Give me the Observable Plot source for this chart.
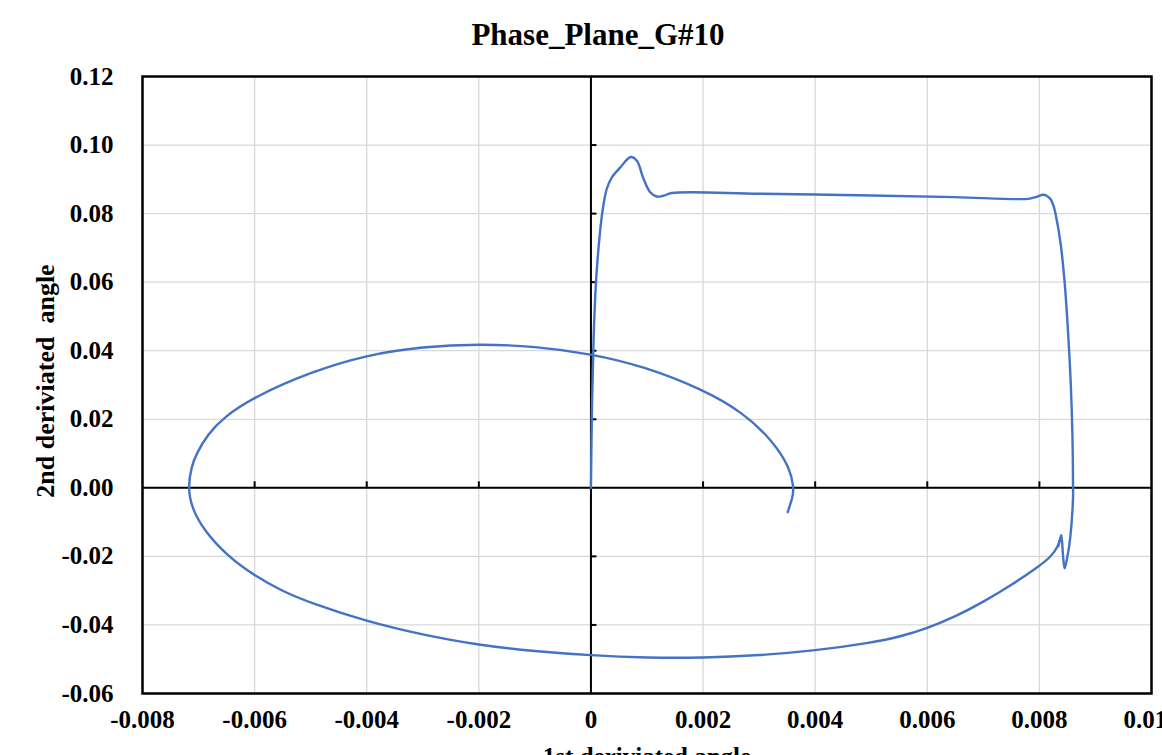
<!DOCTYPE html>
<html>
<head>
<meta charset="utf-8">
<script src="https://cdn.jsdelivr.net/npm/d3@7"></script>
<script src="https://cdn.jsdelivr.net/npm/@observablehq/plot@0.6"></script>
<style>
  html, body { margin: 0; padding: 0; background: #fff; overflow: hidden; }
  #chart { width: 1162px; height: 755px; }
</style>
</head>
<body>
<div id="chart"></div>
<script>
const title = "Phase_Plane_G#10";
const xLabel = "1st deriviated angle";
const yLabel = "2nd deriviated\u00a0 angle";

const xTicks = [-0.008, -0.006, -0.004, -0.002, 0, 0.002, 0.004, 0.006, 0.008, 0.010];
const yTicks = [-0.06, -0.04, -0.02, 0, 0.02, 0.04, 0.06, 0.08, 0.10, 0.12];

// trajectory, in drawing order (1st derivative, 2nd derivative)
const dAngle1 = [
  0, 0.00002, 0.00005, 0.00009, 0.00013, 0.0002, 0.00028, 0.00037, 0.00052, 0.00071,
  0.00082, 0.00093, 0.00105, 0.00117, 0.00129, 0.00144, 0.003, 0.005, 0.0065, 0.0078,
  0.00793, 0.00807, 0.00813, 0.0082, 0.00826, 0.00829, 0.00838, 0.00845, 0.00851, 0.00856,
  0.00859, 0.0086, 0.0086, 0.00855, 0.00849, 0.00845, 0.00842, 0.00839, 0.00834, 0.0082,
  0.008, 0.0075, 0.007, 0.0065, 0.006, 0.0055, 0.005, 0.004, 0.003, 0.002,
  0.001, 0, -0.001, -0.002, -0.003, -0.004, -0.005, -0.0055, -0.006, -0.0065,
  -0.0069, -0.00712, -0.00719, -0.00713, -0.00704, -0.00683, -0.00656, -0.006, -0.005, -0.004,
  -0.003, -0.002, -0.001, 0, 0.00093, 0.002, 0.00272, 0.00325, 0.00355, 0.00362,
  0.0036, 0.00351
];
const dAngle2 = [
  0, 0.025, 0.045, 0.060, 0.069, 0.080, 0.0871, 0.0905, 0.0934, 0.0965,
  0.0954, 0.0905, 0.0864, 0.0850, 0.0852, 0.0860, 0.0858, 0.0853, 0.0848, 0.0843,
  0.0848, 0.0855, 0.0852, 0.0842, 0.0818, 0.0798, 0.0711, 0.0600, 0.0458, 0.0302,
  0.0150, 0.0, -0.0029, -0.0146, -0.0209, -0.0235, -0.0194, -0.0139, -0.0170, -0.0202,
  -0.0228, -0.0284, -0.0333, -0.0376, -0.0410, -0.0435, -0.0452, -0.0475, -0.0489, -0.0496,
  -0.0496, -0.0489, -0.0477, -0.0459, -0.0429, -0.0390, -0.0336, -0.0302, -0.0257, -0.0197,
  -0.0125, -0.0060, 0, 0.0060, 0.0100, 0.0157, 0.0205, 0.0266, 0.0338, 0.0388,
  0.0412, 0.0420, 0.0413, 0.0391, 0.0355, 0.0287, 0.0219, 0.0136, 0.0058, 0,
  -0.0027, -0.0071
];
// index where the sharp start-up transient ends and the smooth spiral begins
const spiralStart = 38;

const points = dAngle1.map((x, i) => ({x, y: dAngle2[i], i}));
const fmtX = d => d === 0 ? "0" : d.toFixed(3);
const fmtY = d => d.toFixed(2);
const font = "'Liberation Serif', 'Times New Roman', serif";
const lineStyle = {x: "x", y: "y", stroke: "#4472C4", strokeWidth: 2.4, strokeLinejoin: "round", strokeLinecap: "round"};

const chart = Plot.plot({
  width: 1162,
  height: 755,
  marginLeft: 142,
  marginRight: 11,
  marginTop: 76,
  marginBottom: 62,
  style: {background: "#fff", fontFamily: font, color: "#000"},
  x: {domain: [-0.008, 0.010], axis: null},
  y: {domain: [-0.06, 0.12], axis: null},
  marks: [
    Plot.ruleX(xTicks, {x: d => d, stroke: "#d9d9d9", strokeWidth: 1.3}),
    Plot.ruleY(yTicks, {y: d => d, stroke: "#d9d9d9", strokeWidth: 1.3}),
    Plot.ruleY([0], {y: d => d, stroke: "#000", strokeWidth: 2}),
    Plot.ruleX([0], {x: d => d, stroke: "#000", strokeWidth: 2}),
    Plot.ruleX(xTicks.filter(d => d !== 0 && d > -0.008 && d < 0.010), {x: d => d, y1: 0, y2: 0, insetBottom: 6, stroke: "#000", strokeWidth: 2}),
    Plot.ruleY(yTicks.filter(d => d !== 0 && d > -0.06 && d < 0.12), {y: d => d, x1: 0, x2: 0, insetRight: -6, stroke: "#000", strokeWidth: 2}),
    Plot.frame({stroke: "#000", strokeWidth: 2.5}),
    Plot.line(points.filter(d => d.i <= spiralStart), {...lineStyle, curve: "catmull-rom"}),
    Plot.line(points.filter(d => d.i >= spiralStart - 1), {...lineStyle, curve: "basis"}),
    Plot.text(xTicks, {x: d => d, text: fmtX, frameAnchor: "bottom", lineAnchor: "top", dy: 17, fontSize: 25, fontWeight: "bold"}),
    Plot.text(yTicks, {y: d => d, text: fmtY, frameAnchor: "left", textAnchor: "end", dx: -29, fontSize: 25, fontWeight: "bold"}),
    Plot.text([title], {text: d => d, frameAnchor: "top", lineAnchor: "middle", textAnchor: "middle", dy: -41, dx: -49, fontSize: 31, fontWeight: "bold"}),
    Plot.text([yLabel], {text: d => d, frameAnchor: "left", textAnchor: "middle", rotate: -90, dx: -97, dy: -4, fontSize: 26, fontWeight: "bold"}),
    Plot.text([xLabel], {text: d => d, frameAnchor: "bottom", lineAnchor: "top", dy: 54, fontSize: 25, fontWeight: "bold"})
  ]
});
document.getElementById("chart").appendChild(chart);
</script>
</body>
</html>
